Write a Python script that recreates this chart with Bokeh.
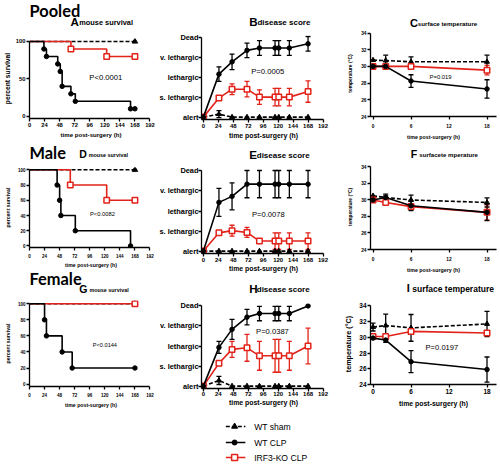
from bokeh.plotting import figure
from bokeh.layouts import row, column
from bokeh.models import (Label, Whisker, ColumnDataSource, FixedTicker, TeeHead, Range1d)
from bokeh.embed import file_html
from bokeh.resources import INLINE

FONT = "Liberation Sans"
HEAD_FONT = "Lato"
RED = "#e2231a"
BLACK = "#000000"

# ---------------- data ----------------
surv_xticks = [0, 24, 48, 72, 96, 120, 144, 168, 192]
score_xticks = [0, 24, 48, 72, 96, 120, 144, 168, 192]
temp_xticks = [0, 6, 12, 18]
temp_yticks = [24, 26, 28, 30, 32, 34]
score_levels = ["alert", "s. lethargic", "lethargic", "v. lethargic", "Dead"]
legend_labels = ["WT sham", "WT CLP", "IRF3-KO CLP"]

# Pooled survival (A)
a_sham_t = [0, 168]
a_sham = [100, 100]
a_clp_t = [0, 23, 27, 45, 49, 52, 66, 73, 161, 168]
a_clp = [100, 90, 80, 70, 60, 40, 30, 20, 10, 10]
a_ko_t = [0, 66, 123, 168]
a_ko = [100, 90, 80, 80]
# Male survival (D)
d_sham_t = [0, 168]
d_sham = [100, 100]
d_clp_t = [0, 44, 48, 50, 73, 161]
d_clp = [100, 80, 60, 40, 20, 0]
d_ko_t = [0, 65, 123, 168]
d_ko = [100, 80, 60, 60]
# Female survival (G)
g_sham_t = [0, 168]
g_sham = [100, 100]
g_clp_t = [0, 24, 27, 52, 68, 168]
g_clp = [100, 80, 60, 40, 20, 20]
g_ko_t = [0, 168]
g_ko = [100, 100]

# disease score time points
score_t = [0, 25, 46, 70, 90, 115, 121, 138, 168]
# Pooled (B)
b_sham = [0, 0.15, 0, 0, 0, 0, 0, 0, 0]
b_sham_e = [0, 0.18, 0, 0, 0, 0, 0, 0, 0]
b_clp = [0, 2.17, 2.79, 3.37, 3.49, 3.49, 3.49, 3.49, 3.70]
b_clp_e = [0, 0.37, 0.39, 0.37, 0.37, 0.37, 0.37, 0.37, 0.37]
b_ko = [0, 0.96, 1.41, 1.41, 1.01, 1.01, 1.01, 1.01, 1.29]
b_ko_e = [0, 0, 0.27, 0.39, 0.37, 0.44, 0.44, 0.44, 0.54]
# Male (E)
e_sham = [0, 0, 0, 0, 0, 0, 0, 0, 0]
e_sham_e = [0, 0, 0, 0, 0, 0, 0, 0, 0]
e_clp = [0, 2.43, 2.73, 3.34, 3.34, 3.34, 3.34, 3.34, 3.34]
e_clp_e = [0, 0.70, 0.67, 0.68, 0.68, 0.68, 0.68, 0.68, 0.68]
e_ko = [0, 0.91, 1.02, 0.93, 0.50, 0.50, 0.50, 0.50, 0.50]
e_ko_e = [0, 0.10, 0.27, 0.25, 0, 0.41, 0.41, 0.41, 0.41]
# Female (H)
h_sham = [0, 0.28, 0, 0, 0, 0, 0, 0, 0]
h_sham_e = [0, 0.20, 0, 0, 0, 0, 0, 0, 0]
h_clp = [0, 1.93, 2.83, 3.44, 3.62, 3.62, 3.62, 3.62, 4.0]
h_clp_e = [0, 0.30, 0.50, 0.39, 0.36, 0.36, 0.36, 0.36, 0]
h_ko = [0, 1.14, 1.83, 1.91, 1.51, 1.51, 1.51, 1.51, 2.0]
h_ko_e = [0, 0, 0.40, 0.67, 0.72, 0.82, 0.82, 0.72, 0.89]

# surface temperature
temp_t = [0, 2, 6, 18]
c_sham = [30.75, 30.7, 30.55, 30.55]
c_sham_e = [0, 0.65, 0.6, 0.8]
c_clp = [30.0, 30.0, 28.25, 27.3]
c_clp_e = [0, 0.15, 0.75, 1.1]
c_ko = [30.0, 30.0, 30.0, 29.55]
c_ko_e = [0, 0.1, 0.15, 0.57]

f_sham = [30.5, 30.3, 30.0, 29.7]
f_sham_e = [0, 0.4, 0.6, 0.55]
f_clp = [30.0, 30.3, 29.3, 28.5]
f_clp_e = [0, 0.2, 0.6, 1.0]
f_ko = [30.0, 29.7, 29.2, 28.5]
f_ko_e = [0, 0.15, 0.3, 0.9]

i_sham = [31.3, 31.5, 31.2, 31.7]
i_sham_e = [0.5, 1.45, 1.7, 1.6]
i_clp = [29.9, 29.65, 26.9, 25.9]
i_clp_e = [0.1, 0.3, 1.4, 1.6]
i_ko = [30.1, 30.1, 30.75, 30.55]
i_ko_e = [0, 0.2, 0.3, 0.2]


def fs(v):
    return f"{v:g}px"


def blank(p):
    p.outline_line_color = None
    p.background_fill_color = None
    p.border_fill_color = None


def canvas(box):
    L, T, R, B = box
    W, H = R - L, B - T
    p = figure(width=W, height=H, x_range=Range1d(0, W), y_range=Range1d(H, 0),
               min_border=0, x_axis_type=None, y_axis_type=None, title=None,
               output_backend="svg", toolbar_location=None)
    p.title = None
    blank(p)
    return p


def label(p, x, y, t, size, bold, font):
    p.add_layout(Label(x=x, y=y, text=t, text_font=font, text_font_size=fs(size),
                       text_font_style="bold" if bold else "normal",
                       text_align="left", text_baseline="middle", text_color=BLACK))


def header(box, texts):
    L, T, R, B = box
    p = canvas(box)
    for X, Y, t, size, bold, font in texts:
        label(p, X - L, Y - T, t, size, bold, font)
    return p


class Panel:
    def __init__(self, box, xmap, ymap, xr, yr):
        L, T, R, B = box
        (xv0, xp0), (xv1, xp1) = xmap
        (yv0, yp0), (yv1, yp1) = ymap
        self.kx = (xp1 - xp0) / (xv1 - xv0)
        self.ky = (yp1 - yp0) / (yv1 - yv0)
        self.xv0, self.xp0, self.yv0, self.yp0 = xv0, xp0, yv0, yp0
        self.xr, self.yr = xr, yr
        fl = self.px(xr[0]); fr = self.px(xr[1])
        ft = self.py(yr[1]); fb = self.py(yr[0])
        W, H = R - L, B - T
        self.lb = round(fl - L)
        self.rb = round(R - fr)
        self.p = figure(width=W, height=H, x_range=Range1d(*xr), y_range=Range1d(*yr),
                        output_backend="svg", toolbar_location=None, title=None,
                        min_border_left=self.lb, min_border_right=self.rb,
                        min_border_top=round(ft - T), min_border_bottom=round(B - fb))
        p = self.p
        p.title = None
        blank(p)
        p.xgrid.visible = False
        p.ygrid.visible = False

    def px(self, v):
        return self.xp0 + (v - self.xv0) * self.kx

    def py(self, v):
        return self.yp0 + (v - self.yv0) * self.ky

    def dx(self, X):
        return self.xv0 + (X - self.xp0) / self.kx

    def dy(self, Y):
        return self.yv0 + (Y - self.yp0) / self.ky

    def text(self, X, Y, t, size):
        label(self.p, self.dx(X), self.dy(Y), t, size, False, FONT)

    def axes(self, xticks, yticks, xmax, ymax, xtick_fs, ytick_fs, xlab, ylab, xlab_fs, ylab_fs,
             xls, xas, yls, yas, yover=None):
        p = self.p
        p.xaxis.ticker = FixedTicker(ticks=xticks, minor_ticks=[])
        p.yaxis.ticker = FixedTicker(ticks=yticks, minor_ticks=[])
        p.xaxis.bounds = (self.xr[0], xmax)
        p.yaxis.bounds = (self.yr[0], ymax)
        if yover:
            p.yaxis.major_label_overrides = yover
        for ax in p.axis:
            ax.axis_line_width = 1.3
            ax.axis_line_color = BLACK
            ax.major_tick_line_width = 1.3
            ax.major_tick_line_color = BLACK
            ax.major_tick_out = 3
            ax.major_tick_in = 0
            ax.minor_tick_out = 0
            ax.minor_tick_in = 0
            ax.major_label_text_font = FONT
            ax.major_label_text_font_style = "bold"
            ax.major_label_text_color = BLACK
            ax.axis_label_text_font = FONT
            ax.axis_label_text_font_style = "bold"
            ax.axis_label_text_color = BLACK
        p.xaxis.major_label_text_font_size = fs(xtick_fs)
        p.yaxis.major_label_text_font_size = fs(ytick_fs)
        p.xaxis.axis_label = xlab
        p.xaxis.axis_label_text_font_size = fs(xlab_fs)
        p.xaxis.major_label_standoff = xls
        p.xaxis.axis_label_standoff = xas
        if ylab:
            p.yaxis.axis_label = ylab
            p.yaxis.axis_label_text_font_size = fs(ylab_fs)
        p.yaxis.major_label_standoff = yls
        p.yaxis.axis_label_standoff = yas


LW = 1.6


def survival(pan, sham_t, sham, clp_t, clp, ko_t, ko):
    p = pan.p
    p.line(sham_t, sham, line_color=BLACK, line_width=LW, line_dash="4 2")
    p.scatter(sham_t[-1:], sham[-1:], marker="triangle", size=5.5, color=BLACK)
    p.step(ko_t, ko, mode="after", line_color=RED, line_width=LW)
    p.scatter(ko_t[1:], ko[1:], marker="square", size=5.5, fill_color="white",
              line_color=RED, line_width=1.5)
    p.step(clp_t, clp, mode="after", line_color=BLACK, line_width=LW)
    p.scatter(clp_t[1:], clp[1:], marker="circle", size=4.5, color=BLACK)


def whisk(p, t, y, e, color):
    xs = [a for a, b in zip(t, e) if b > 0]
    up = [c + b for c, b in zip(y, e) if b > 0]
    lo = [c - b for c, b in zip(y, e) if b > 0]
    src = ColumnDataSource(dict(x=xs, upper=up, lower=lo))
    p.add_layout(Whisker(base="x", upper="upper", lower="lower", source=src,
                         line_color=color, line_width=1.3,
                         upper_head=TeeHead(size=5, line_color=color, line_width=1.3),
                         lower_head=TeeHead(size=5, line_color=color, line_width=1.3)))


def draw_sham(p, t, y, mt=None, my=None, msize=5):
    p.line(t, y, line_color=BLACK, line_width=LW, line_dash="4 2")
    p.scatter(t if mt is None else mt, y if my is None else my,
              marker="triangle", size=msize, color=BLACK)


def draw_ko(p, t, y, mt=None, my=None, msize=5.5):
    p.line(t, y, line_color=RED, line_width=LW)
    p.scatter(t if mt is None else mt, y if my is None else my,
              marker="square", size=msize, fill_color="white", line_color=RED, line_width=1.5)


def draw_clp(p, t, y, mt=None, my=None, msize=4.5):
    p.line(t, y, line_color=BLACK, line_width=LW)
    p.scatter(t if mt is None else mt, y if my is None else my,
              marker="circle", size=msize, color=BLACK)


def series(pan, t, sham, sham_e, clp, clp_e, ko, ko_e):
    p = pan.p
    whisk(p, t, sham, sham_e, BLACK)
    draw_sham(p, t, sham)
    whisk(p, t, ko, ko_e, RED)
    draw_ko(p, t, ko)
    whisk(p, t, clp, clp_e, BLACK)
    draw_clp(p, t, clp)


score_over = {i: s for i, s in enumerate(score_levels)}

# ---------------- column 1: survival ----------------
hA = header((0, 0, 156, 30), [(0, 9.5, "Pooled", 16.4, True, HEAD_FONT),
                              (52, 21, "A", 11.6, True, FONT),
                              (63, 21.5, "mouse survival", 7.4, True, FONT)])
A = Panel((0, 30, 156, 140), ((0, 25), (192, 152)), ((0, 117), (100, 41)), (0, 196), (-3, 104))
survival(A, a_sham_t, a_sham, a_clp_t, a_clp, a_ko_t, a_ko)
A.axes(surv_xticks, [0, 50, 100], 192, 100, 5.8, 5.8,
       "time post-surgery (h)", "percent survival", 6.1, 6.7, 1, 1, 1, 2)
A.text(88, 78, "P<0.0001", 7.7)

hD = header((0, 140, 156, 162), [(0, 151.5, "Male", 16.4, True, HEAD_FONT),
                                 (63, 153, "D", 10.5, True, FONT),
                                 (75, 154, "mouse survival", 5.4, True, FONT)])
D = Panel((0, 162, 156, 270), ((0, 24), (192, 149.5)), ((0, 250), (100, 169)), (0, 196), (-2, 103))
survival(D, d_sham_t, d_sham, d_clp_t, d_clp, d_ko_t, d_ko)
D.axes(surv_xticks, [0, 20, 40, 60, 80, 100], 192, 100, 4.5, 4.5,
       "time post-surgery (h)", "percent survival", 5.2, 5.2, 3, 1, 1, 4)
D.text(87, 216, "P<0.0082", 5.8)

hG = header((0, 270, 156, 296), [(0, 277.5, "Female", 16.4, True, HEAD_FONT),
                                 (63, 288, "G", 10.5, True, FONT),
                                 (76, 289, "mouse survival", 5.4, True, FONT)])
G = Panel((0, 296, 156, 410), ((0, 24), (192, 149.5)), ((0, 385), (100, 303)), (0, 196), (-3, 104))
survival(G, g_sham_t, g_sham, g_clp_t, g_clp, g_ko_t, g_ko)
G.axes(surv_xticks, [0, 20, 40, 60, 80, 100], 192, 100, 4.5, 4.5,
       "time post-surgery (h)", "percent survival", 5.2, 5.2, 3, 2, 1, 4)
G.text(90, 345, "P<0.0144", 5.6)

# ---------------- column 2: disease score ----------------
hB = header((156, 0, 340, 30), [(227, 21, "B", 11.6, True, FONT),
                                (239, 21.5, "disease score", 8, True, FONT)])
B = Panel((156, 30, 340, 141), ((0, 200), (192, 322.5)), ((0, 118), (4, 37)), (-3, 196), (-0.12, 4.12))
series(B, score_t, b_sham, b_sham_e, b_clp, b_clp_e, b_ko, b_ko_e)
B.axes(score_xticks, [0, 1, 2, 3, 4], 192, 4, 6.0, 7.4,
       "time post-surgery (h)", None, 6.9, 7, 1, 1, 0, 0, yover=score_over)
B.text(249, 71, "P=0.0005", 7.7)

hE = header((156, 141, 340, 162), [(227, 154, "E", 11.6, True, FONT),
                                   (238, 154.5, "disease score", 8, True, FONT)])
E = Panel((156, 162, 340, 277), ((0, 200.5), (192, 322.5)), ((0, 251), (4, 170)), (-3, 196), (-0.12, 4.12))
series(E, score_t, e_sham, e_sham_e, e_clp, e_clp_e, e_ko, e_ko_e)
E.axes(score_xticks, [0, 1, 2, 3, 4], 192, 4, 6.0, 7.4,
       "time post-surgery (h)", None, 6.9, 7, 1, 0, 0, 0, yover=score_over)
E.text(250, 214, "P=0.0078", 7.6)

hH = header((156, 277, 340, 296), [(227, 288, "H", 11.6, True, FONT),
                                   (238, 288.5, "disease score", 8, True, FONT)])
H = Panel((156, 296, 340, 410), ((0, 200), (192, 322.5)), ((0, 386), (4, 305)), (-3, 196), (-0.12, 4.12))
series(H, score_t, h_sham, h_sham_e, h_clp, h_clp_e, h_ko, h_ko_e)
H.axes(score_xticks, [0, 1, 2, 3, 4], 192, 4, 6.0, 7.4,
       "time post-surgery (h)", None, 6.9, 7, 0, 0, 0, 0, yover=score_over)
H.text(254, 331, "P=0.0387", 7.6)

# legend (key glyph + label per series), frame aligned with panel H
LG_T = 410
lg = figure(width=184, height=54, x_range=Range1d(*H.xr), y_range=Range1d(54, 0),
            min_border_left=H.lb, min_border_right=H.rb, min_border_top=0, min_border_bottom=0,
            x_axis_type=None, y_axis_type=None, title=None,
            output_backend="svg", toolbar_location=None)
lg.title = None
blank(lg)
key_x = [H.dx(223), H.dx(243)]
key_mid = [H.dx(232)]
row_y = [426 - LG_T, 442 - LG_T, 457 - LG_T]
draw_sham(lg, key_x, [row_y[0]] * 2, key_mid, [row_y[0]], 6)
draw_clp(lg, key_x, [row_y[1]] * 2, key_mid, [row_y[1]], 5)
draw_ko(lg, key_x, [row_y[2]] * 2, key_mid, [row_y[2]], 6)
for lab, yy in zip(legend_labels, row_y):
    label(lg, H.dx(252), yy, lab, 8.6, False, FONT)

# ---------------- column 3: temperature ----------------
hC = header((340, 0, 500, 29), [(390, 22, "C", 11, True, FONT),
                                (400, 22.5, "surface temperature", 6.2, True, FONT)])
C = Panel((340, 29, 500, 142), ((0, 372), (18, 487)), ((24, 117), (34, 33)), (-0.4, 19.5), (24, 34.3))
series(C, temp_t, c_sham, c_sham_e, c_clp, c_clp_e, c_ko, c_ko_e)
C.axes(temp_xticks, temp_yticks, 19.5, 34, 4.8, 4.8,
       "time post-surgery (h)", "temperature (°C)", 5.3, 4.9, 4, 3, 1, 5)
C.text(429, 77, "P=0.019", 5.9)

hF = header((340, 142, 500, 161), [(391, 153.5, "F", 10.5, True, FONT),
                                   (402, 154, "surfacete mperature", 6.1, True, FONT)])
F = Panel((340, 161, 500, 277), ((0, 372.5), (18, 487)), ((24, 249), (34, 166)), (-0.4, 19.5), (24, 34.3))
series(F, temp_t, f_sham, f_sham_e, f_clp, f_clp_e, f_ko, f_ko_e)
F.axes(temp_xticks, temp_yticks, 19.5, 34, 4.8, 4.8,
       "time post-surgery (h)", "temperature (°C)", 5.3, 4.9, 4, 3, 1, 5)

hI = header((340, 277, 500, 297), [(386, 287.5, "I", 11, True, FONT),
                                   (393, 288, "surface temperature", 8.5, True, FONT)])
I = Panel((340, 297, 500, 410), ((0, 371), (18, 486)), ((24, 384), (34, 305)), (-0.4, 19.5), (24, 34.3))
series(I, temp_t, i_sham, i_sham_e, i_clp, i_clp_e, i_ko, i_ko_e)
I.axes(temp_xticks, temp_yticks, 19.5, 34, 6.5, 6.5,
       "time post-surgery (h)", "temperature (°C)", 6.9, 7.2, 1, 3, 1, 3)
I.text(424, 347, "P=0.0197", 7.6)

layout = row(column(hA, A.p, hD, D.p, hG, G.p),
             column(hB, B.p, hE, E.p, hH, H.p, lg),
             column(hC, C.p, hF, F.p, hI, I.p))

open("out.html", "w").write(file_html(layout, INLINE))
